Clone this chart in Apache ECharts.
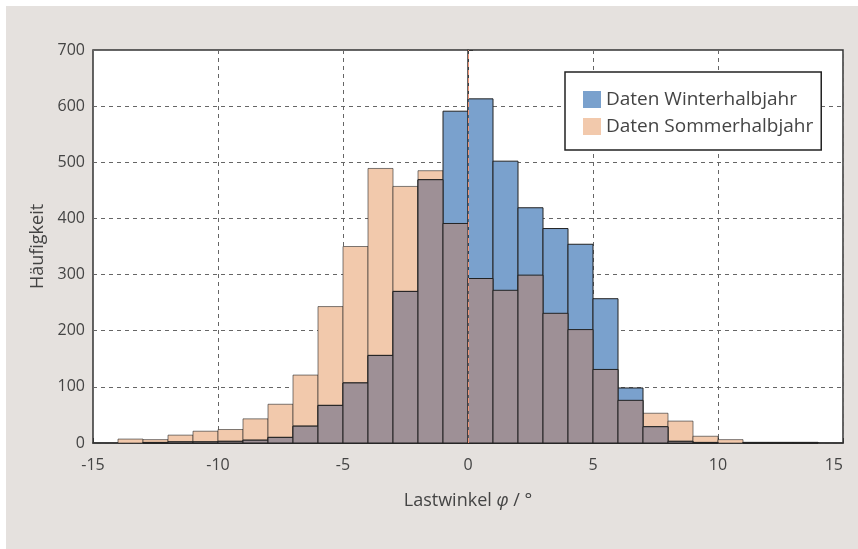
<!DOCTYPE html>
<html>
<head>
<meta charset="utf-8">
<script src="https://cdn.jsdelivr.net/npm/echarts@6/dist/echarts.min.js"></script>
<style>
  html, body { margin: 0; padding: 0; background: #ffffff; }
  #main {
    position: absolute;
    left: 6px;
    top: 6px;
    width: 852px;
    height: 543px;
    background: #e5e1de;
  }
</style>
</head>
<body>
<div id="main"></div>
<script>
// bin left edges (width 1 degree)
const binStarts = [-14, -13, -12, -11, -10, -9, -8, -7, -6, -5, -4, -3, -2, -1,
  0, 1, 2, 3, 4, 5, 6, 7, 8, 9, 10, 11, 12, 13];
const winter = [0, 1, 2, 2, 3, 5, 10, 30, 67, 107, 156, 270, 469, 591,
  613, 502, 419, 382, 354, 257, 98, 29, 3, 1, 0, 1, 1, 1];
const summer = [7, 6, 14, 21, 24, 43, 69, 121, 243, 350, 489, 457, 485, 391,
  293, 272, 299, 231, 202, 131, 76, 53, 39, 12, 6, 1, 1, 1];
const binWidth = 1;
const names = ['Daten Winterhalbjahr', 'Daten Sommerhalbjahr'];

const colWinter = '#7aa1cd';
const colSummer = '#f2c9ac';
const colBoth = '#9e9096';
const font = '"Open Sans", "DejaVu Sans", sans-serif';

function toData(vals) {
  return binStarts.map((x, i) => [x, vals[i]]);
}
const overlap = winter.map((w, i) => Math.min(w, summer[i]));

function barRenderer(fill, stroke) {
  return function (params, api) {
    const x0 = api.value(0);
    const v = api.value(1);
    if (!v) return null;
    const p0 = api.coord([x0, v]);
    const p1 = api.coord([x0 + binWidth, 0]);
    return {
      type: 'rect',
      shape: { x: p0[0], y: p0[1], width: p1[0] - p0[0], height: p1[1] - p0[1] },
      style: { fill: fill, stroke: stroke, lineWidth: 1 }
    };
  };
}

const chart = echarts.init(document.getElementById('main'));
const option = {
  animation: false,
  textStyle: { fontFamily: font, color: '#444' },
  grid: {
    left: 87, right: 15, top: 44, bottom: 106,
    show: true, backgroundColor: '#ffffff', borderColor: '#333', borderWidth: 1.5
  },
  legend: {
    orient: 'vertical',
    left: 559, top: 66,
    data: names,
    icon: 'rect',
    itemWidth: 18, itemHeight: 17, itemGap: 8,
    backgroundColor: '#ffffff',
    borderColor: '#222', borderWidth: 1.5, borderRadius: 0,
    padding: [18, 8, 14, 18],
    textStyle: { fontFamily: font, fontSize: 19, lineHeight: 17, color: '#444' }
  },
  xAxis: {
    type: 'value', min: -15, max: 15, interval: 5,
    name: 'Lastwinkel {i|φ} / °',
    nameLocation: 'middle', nameGap: 49,
    nameTextStyle: {
      fontSize: 18, color: '#444',
      rich: { i: { fontStyle: 'italic', fontSize: 18, color: '#444' } }
    },
    axisLine: { show: true, lineStyle: { color: '#333', width: 1.5 } },
    axisTick: { show: true, inside: true, length: 5, lineStyle: { color: '#333' } },
    axisLabel: { fontSize: 16, color: '#444', margin: 14, alignMaxLabel: 'right' },
    splitLine: { show: true, lineStyle: { color: '#666', type: [4, 4], width: 1 } }
  },
  yAxis: {
    type: 'value', min: 0, max: 700, interval: 100,
    name: 'Häufigkeit',
    nameLocation: 'middle', nameGap: 46,
    nameTextStyle: { fontSize: 18, color: '#444' },
    axisLine: { show: true, lineStyle: { color: '#333', width: 1.5 } },
    axisTick: { show: true, inside: true, length: 5, lineStyle: { color: '#333' } },
    axisLabel: { fontSize: 16, color: '#444', margin: 8 },
    splitLine: { show: true, lineStyle: { color: '#666', type: [4, 4], width: 1 } }
  },
  series: [
    {
      name: names[1], type: 'custom',
      itemStyle: { color: colSummer },
      renderItem: barRenderer(colSummer, 'rgba(40,40,40,0.6)'),
      data: toData(summer), z: 2
    },
    {
      name: names[0], type: 'custom',
      itemStyle: { color: colWinter },
      renderItem: barRenderer(colWinter, '#222'),
      data: toData(winter), z: 3
    },
    {
      name: 'overlap', type: 'custom',
      renderItem: barRenderer(colBoth, '#222'),
      data: toData(overlap), z: 4,
      markLine: {
        silent: true, symbol: 'none', label: { show: false },
        lineStyle: { color: '#ec9478', type: [5, 3], width: 1 },
        data: [{ xAxis: 0 }]
      }
    }
  ]
};
chart.setOption(option);
</script>
</body>
</html>
